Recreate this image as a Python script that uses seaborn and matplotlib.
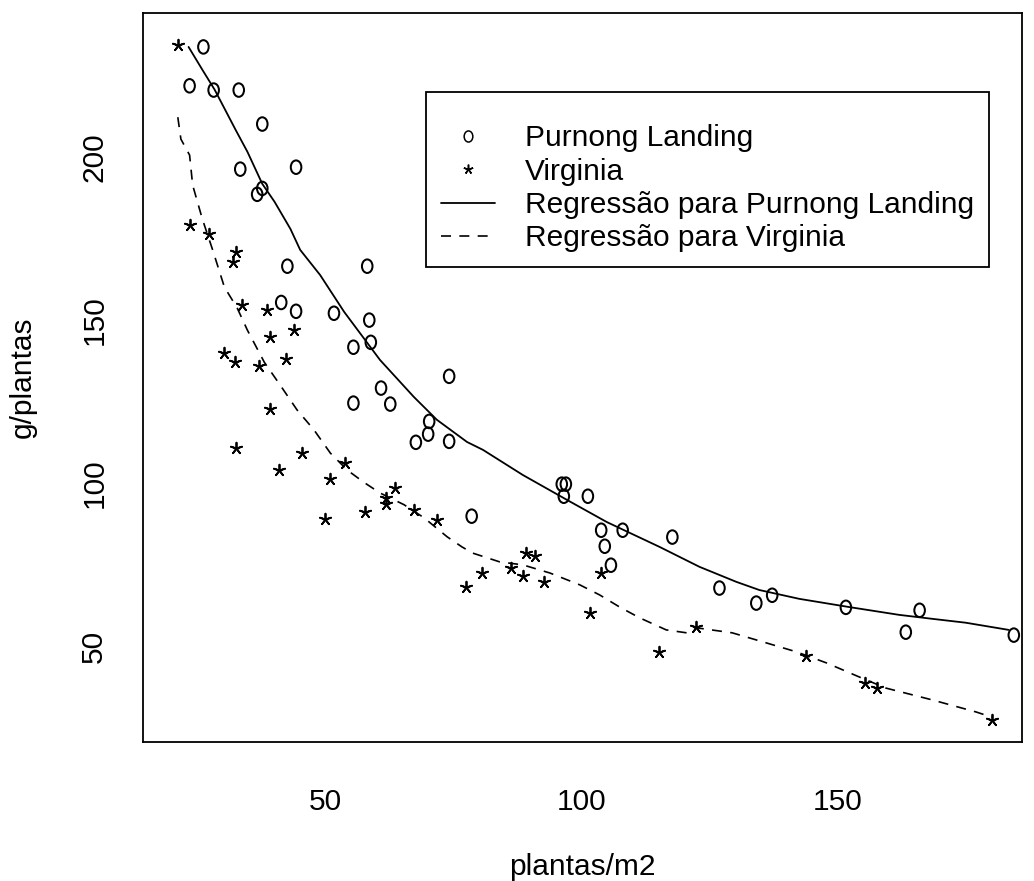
import numpy as np
import pandas as pd
import seaborn as sns
import matplotlib.pyplot as plt
from matplotlib.path import Path
from matplotlib.lines import Line2D

# Purnong Landing points
purnong_x = [26.2, 23.5, 28.2, 33.1, 37.7, 33.4, 44.3, 37.7, 36.7, 42.6, 58.2, 41.4, 44.3, 51.7,
             58.6, 55.5, 58.9, 74.2, 60.9, 55.5, 62.7, 67.7, 70.3, 70.1, 74.2, 78.6, 96.2, 97.0,
             96.6, 101.3, 103.9, 104.6, 105.8, 108.1, 117.8, 127.0, 134.2, 137.3, 151.7, 163.4,
             166.1, 184.5]
purnong_y = [233.6, 221.7, 220.4, 220.4, 210.0, 196.2, 196.8, 190.3, 188.5, 166.5, 166.5, 155.4,
             152.7, 152.1, 150.0, 141.7, 143.2, 132.8, 129.2, 124.6, 124.3, 112.6, 119.0, 115.1,
             112.9, 90.0, 99.8, 99.8, 96.1, 96.1, 85.7, 80.8, 75.0, 85.7, 83.6, 68.0, 63.4, 65.8,
             62.1, 54.5, 61.2, 53.6]

# Virginia points
virginia_x = [21.2, 23.5, 27.2, 32.5, 31.9, 33.8, 38.7, 43.9, 39.3, 30.3, 32.3, 37.1, 42.4, 39.3,
              32.5, 45.5, 41.0, 53.9, 51.0, 63.6, 61.9, 61.9, 50.0, 57.8, 67.4, 71.8, 77.5, 80.6,
              86.2, 88.6, 89.2, 90.9, 92.7, 101.8, 103.8, 115.1, 122.5, 143.9, 155.5, 157.8, 180.2]
virginia_y = [234.3, 179.0, 176.3, 170.8, 167.8, 154.6, 153.0, 147.0, 144.8, 139.9, 137.2, 135.9,
              138.0, 122.7, 110.8, 109.3, 104.1, 106.2, 101.3, 98.6, 95.5, 93.7, 89.2, 91.3, 91.9,
              88.9, 68.3, 72.6, 74.1, 71.7, 78.7, 77.8, 69.9, 60.3, 72.6, 48.4, 56.0, 47.2, 38.8,
              37.4, 27.6]

# fitted curves
pl_fit_x = [23.3, 26.0, 28.4, 32.5, 34.8, 37.7, 40.1, 43.2, 45.1, 49.0, 53.7, 60.7, 67.3, 71.8,
            77.7, 80.8, 88.6, 97.2, 105.0, 115.3, 123.1, 130.3, 134.8, 142.6, 152.3, 162.1,
            168.5, 175.1, 183.5]
pl_fit_y = [233.6, 226.6, 220.5, 208.2, 201.5, 191.7, 186.2, 177.9, 171.5, 163.8, 152.5, 137.8,
            126.5, 119.5, 112.7, 110.3, 102.6, 95.0, 88.2, 80.6, 74.5, 69.9, 67.4, 64.7, 62.2,
            59.8, 58.6, 57.4, 55.2]

vg_fit_x = [21.2, 21.8, 23.5, 24.1, 26.0, 28.0, 30.3, 32.8, 34.8, 38.1, 41.2, 44.5, 47.8, 51.0,
            54.3, 57.6, 60.7, 65.4, 69.3, 73.8, 76.7, 78.8, 84.1, 88.6, 93.9, 99.7, 103.6, 107.5,
            111.4, 116.6, 120.6, 122.7, 129.5, 136.2, 142.0, 147.9, 154.3, 159.5, 168.5, 177.1,
            180.2]
vg_fit_y = [212.1, 205.4, 200.5, 191.3, 180.9, 171.5, 160.1, 153.7, 146.9, 137.1, 130.1, 122.5,
            116.4, 109.3, 104.1, 100.3, 97.1, 93.5, 89.5, 83.7, 80.6, 78.7, 76.0, 75.1, 72.6,
            69.0, 65.9, 62.2, 58.9, 55.2, 54.3, 55.8, 54.3, 51.2, 48.5, 45.1, 40.8, 37.4, 33.8,
            30.1, 28.5]

labels = ['Purnong Landing', 'Virginia', 'Regressão para Purnong Landing', 'Regressão para Virginia']

df_pl = pd.DataFrame({'x': purnong_x, 'y': purnong_y})
df_vg = pd.DataFrame({'x': virginia_x, 'y': virginia_y})
fit_pl = pd.DataFrame({'x': pl_fit_x, 'y': pl_fit_y})
fit_vg = pd.DataFrame({'x': vg_fit_x, 'y': vg_fit_y})

sns.set_style('white')
plt.rcParams['font.family'] = ['Liberation Sans', 'DejaVu Sans']
plt.rcParams['text.color'] = 'black'
plt.rcParams['axes.labelcolor'] = 'black'
fs = 21.5

# letter-o like ellipse marker
circ = Path.unit_circle()
omark = Path(circ.vertices * np.array([0.78, 1.0]), circ.codes)
star = (5, 2, 0)

fig = plt.figure(figsize=(10.34, 8.81), dpi=100)
ax = fig.add_axes([0.1383, 0.1578, 0.8501, 0.8275])

sns.scatterplot(data=df_pl, x='x', y='y', marker=omark, s=95, facecolors='none',
                edgecolor='black', linewidth=1.45, ax=ax)
sns.scatterplot(data=df_vg, x='x', y='y', marker=star, s=70, color='black',
                linewidth=1.3, ax=ax)
sns.lineplot(data=fit_pl, x='x', y='y', color='black', lw=1.3, sort=False, estimator=None, ax=ax)
sns.lineplot(data=fit_vg, x='x', y='y', color='black', lw=1.2, sort=False, estimator=None,
             dashes=False, ax=ax)
ax.lines[-1].set_dashes((6, 5))

ax.set_xlim(14.4, 186.1)
ax.set_ylim(20.9, 244.0)
ax.set_xticks([50, 100, 150])
ax.set_yticks([50, 100, 150, 200])
ax.tick_params(axis='both', direction='out', length=12, width=1, color='black',
               labelsize=fs, labelcolor='black')
ax.tick_params(axis='x', pad=21)
ax.tick_params(axis='y', pad=13)
for t in ax.get_yticklabels():
    t.set_rotation(90)
    t.set_va('center')
for sp in ax.spines.values():
    sp.set_color('black')
    sp.set_linewidth(1.3)

ax.set_xlabel('plantas/m2', fontsize=fs)
ax.set_ylabel('g/plantas', fontsize=fs)
ax.xaxis.set_label_coords(0.5, -0.171)
ax.xaxis.label.set_va('center')
ax.yaxis.set_label_coords(-0.1365, 0.5)
ax.yaxis.label.set_va('center')

handles = [
    Line2D([], [], ls='none', marker=omark, markersize=8, markerfacecolor='none',
           markeredgecolor='black', markeredgewidth=1.1),
    Line2D([], [], ls='none', marker=star, markersize=7, color='black', markeredgewidth=1.1),
    Line2D([], [], color='black', lw=1.3),
    Line2D([], [], color='black', lw=1.2, dashes=(6, 5)),
]
leg = ax.legend(handles, labels, loc='upper left', bbox_to_anchor=(426 / 1034, 1 - 92 / 881),
                bbox_transform=fig.transFigure, borderaxespad=0, fontsize=fs, frameon=True,
                fancybox=False, framealpha=1, edgecolor='black', handlelength=1.8,
                handletextpad=1.0, labelspacing=0.18, borderpad=0.5,
                title=' ', title_fontsize=9)
leg.get_frame().set_linewidth(1.3)

fig.savefig('out.png', dpi=100)
